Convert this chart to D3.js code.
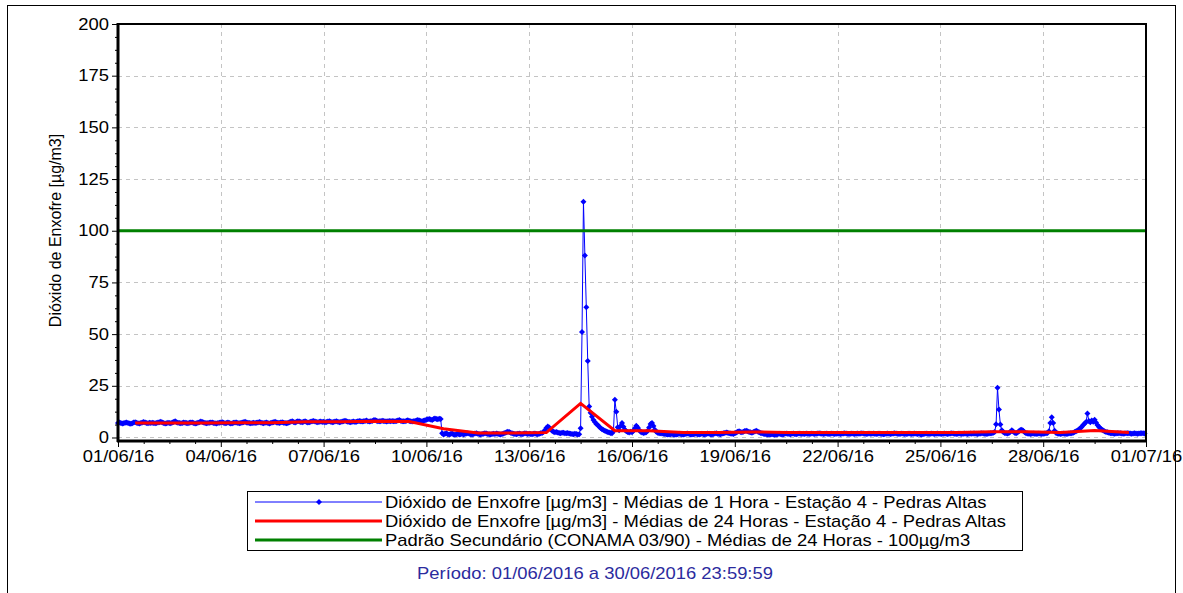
<!DOCTYPE html>
<html lang="pt">
<head>
<meta charset="utf-8">
<title>Dióxido de Enxofre - Estação 4</title>
<script src="https://cdn.jsdelivr.net/npm/d3@7"></script>
<style>
  body { margin: 0; background: #fff; }
  svg { display: block; font-family: "Liberation Sans", Arial, sans-serif; }
</style>
</head>
<body>
<svg id="chart" width="1183" height="593"></svg>
<script>
// y axis ticks
var yTicks = [0, 25, 50, 75, 100, 125, 150, 175, 200];
// x axis tick labels (dd/mm/yy)
var xTickLabels = ["01/06/16", "04/06/16", "07/06/16", "10/06/16", "13/06/16", "16/06/16",
                   "19/06/16", "22/06/16", "25/06/16", "28/06/16", "01/07/16"];

// hourly means, one row per day of June 2016 (hours 0..23)
var hourly = [
  [7.0,7.2,7.0,6.8,6.9,7.1,7.3,7.0,6.8,6.7,6.9,7.2,7.4,7.1,6.9,6.8,7.0,7.3,7.5,7.2,7.0,6.9,7.1,7.0],
  [7.1,7.0,6.9,7.0,7.2,7.4,7.6,7.3,7.0,6.8,6.9,7.1,7.0,6.9,7.2,7.5,7.8,7.4,7.1,7.0,6.9,7.0,7.2,7.1],
  [7.0,6.9,7.1,7.3,7.2,7.0,6.8,6.9,7.1,7.4,7.7,7.5,7.2,7.0,6.9,7.0,7.1,7.3,7.2,7.0,6.9,6.8,7.0,7.1],
  [7.2,7.4,7.1,6.9,7.0,7.2,7.0,6.8,6.9,7.1,7.3,7.2,7.0,6.9,7.0,7.2,7.4,7.6,7.3,7.1,7.0,6.9,7.0,7.1],
  [7.0,7.1,7.3,7.5,7.2,7.0,6.9,7.1,7.3,7.0,6.8,7.0,7.2,7.4,7.6,7.3,7.1,7.0,7.2,7.4,7.1,7.0,6.9,7.0],
  [7.4,7.6,7.8,7.5,7.3,7.6,7.9,7.7,7.5,7.4,7.6,7.8,7.5,7.3,7.4,7.6,7.8,8.0,7.7,7.5,7.4,7.6,7.7,7.5],
  [7.6,7.4,7.5,7.7,7.9,7.6,7.4,7.5,7.7,7.8,7.6,7.4,7.5,7.7,7.9,8.1,7.8,7.6,7.5,7.4,7.6,7.7,7.5,7.6],
  [7.8,8.0,7.9,7.7,7.8,8.0,8.2,7.9,7.7,7.8,8.0,8.3,8.5,8.1,7.9,7.8,7.9,8.1,8.0,7.8,7.7,7.9,8.0,7.9],
  [8.0,7.9,7.8,8.0,8.2,8.4,8.1,7.9,7.8,7.9,8.1,8.3,8.0,7.8,7.7,7.9,8.0,8.2,8.4,8.2,8.0,7.9,8.1,8.3],
  [8.6,8.8,9.0,8.7,8.5,8.9,9.2,9.0,8.8,9.1,8.9,2.0,1.5,1.8,2.0,1.6,1.4,1.7,1.9,1.5,1.3,1.6,1.8,1.5],
  [1.6,1.8,1.5,1.7,1.9,2.0,1.8,1.6,1.5,1.7,1.9,2.1,1.8,1.6,1.5,1.7,1.8,2.0,1.9,1.7,1.6,1.5,1.7,1.8],
  [1.7,1.9,1.8,1.6,1.5,1.7,1.9,2.2,2.5,2.8,2.6,2.3,2.0,1.8,1.7,1.6,1.8,1.9,1.7,1.6,1.8,2.0,1.9,1.7],
  [1.8,1.7,1.6,1.8,1.9,1.7,1.6,1.8,2.0,2.2,2.6,3.5,4.6,5.3,4.8,4.0,3.2,2.8,2.5,2.6,2.4,2.2,2.1,2.3],
  [2.3,2.1,2.0,2.2,1.9,1.8,1.7,1.6,1.8,1.7,1.5,1.6,4.5,51.0,114.0,88.0,63.0,37.0,15.0,12.0,10.0,8.5,7.5,6.5],
  [6.0,5.2,4.6,4.0,3.6,3.2,2.9,2.6,2.4,2.2,2.1,3.0,18.2,12.5,5.0,3.5,5.5,7.0,5.2,3.8,3.0,2.6,2.4,2.8],
  [2.5,3.2,4.5,5.7,4.8,3.6,2.8,2.4,2.2,2.3,2.5,3.2,4.8,6.5,7.0,5.5,3.8,2.8,2.3,2.1,2.0,1.9,1.8,1.7],
  [1.6,1.5,1.4,1.6,1.7,1.5,1.3,1.4,1.6,1.8,1.7,1.5,1.4,1.6,1.8,1.9,1.7,1.5,1.4,1.6,1.7,1.8,1.6,1.5],
  [1.7,1.8,1.6,1.5,1.7,1.9,1.8,1.6,1.5,1.7,1.9,2.0,1.8,1.7,1.6,1.8,2.0,2.2,2.4,2.3,2.1,1.9,1.8,1.7],
  [2.0,2.4,2.8,3.0,2.7,2.5,2.8,3.1,3.3,3.0,2.7,2.5,2.3,2.6,2.9,3.2,2.9,2.5,2.2,2.0,1.8,1.7,1.6,1.5],
  [1.4,1.5,1.6,1.5,1.3,1.4,1.6,1.8,1.7,1.5,1.6,1.8,1.9,1.8,1.7,1.6,1.8,1.9,1.7,1.6,1.8,1.9,1.8,1.7],
  [1.8,1.7,1.9,1.8,1.7,1.8,1.9,1.8,1.7,1.8,1.9,2.0,1.9,1.8,1.7,1.8,1.9,1.8,1.7,1.8,1.9,1.8,1.7,1.8],
  [1.9,1.8,1.7,1.8,1.9,2.0,1.9,1.8,1.7,1.8,1.9,1.8,1.7,1.8,1.9,1.8,1.9,2.0,1.9,1.8,1.7,1.8,1.9,1.8],
  [1.8,1.9,1.8,1.7,1.8,1.9,1.8,1.7,1.6,1.7,1.8,1.9,1.8,1.7,1.8,1.9,2.0,1.9,1.8,1.7,1.8,1.9,1.8,1.7],
  [1.7,1.8,1.9,1.8,1.7,1.8,1.9,1.8,1.7,1.8,1.6,1.5,1.7,1.8,1.9,1.8,1.7,1.8,1.9,1.8,1.7,1.8,1.9,1.8],
  [1.8,1.7,1.8,1.9,1.8,1.7,1.8,1.9,2.0,1.9,1.8,1.7,1.8,1.9,1.8,1.7,1.8,1.9,1.8,1.7,1.8,1.9,1.8,1.9],
  [1.9,1.8,1.7,1.8,1.9,2.0,1.9,1.8,1.7,1.8,1.9,2.0,2.1,2.3,2.6,6.4,24.0,13.5,6.3,3.5,2.6,2.2,2.0,1.9],
  [2.2,2.8,3.5,2.9,2.3,2.0,2.4,3.0,3.6,3.8,3.2,2.5,2.1,1.9,1.8,1.7,1.8,1.9,1.8,1.7,1.8,1.9,1.8,1.7],
  [1.8,1.9,2.0,2.2,3.0,7.0,9.8,7.0,3.2,2.2,1.9,1.8,1.7,1.8,1.9,1.8,1.7,1.8,1.9,2.0,2.1,2.3,2.6,3.0],
  [3.4,3.9,4.5,5.2,6.0,6.8,7.5,11.6,8.0,7.4,8.2,7.6,8.6,7.2,6.0,5.2,4.5,3.9,3.4,3.0,2.7,2.5,2.3,2.1],
  [2.0,1.9,1.8,1.9,2.0,2.1,2.0,1.9,1.8,1.9,2.0,2.1,2.0,1.9,1.8,1.9,2.0,1.9,1.8,1.9,2.0,2.1,2.0,1.9]
];

// 24 hour means, one per day (plotted at noon)
var daily = [7.0, 7.0, 7.0, 7.1, 7.1, 7.6, 7.6, 7.9, 7.7, 4.2,
             2.2, 2.2, 2.4, 16.5, 3.3, 3.2, 2.4, 2.4, 2.7, 2.4,
             2.4, 2.4, 2.4, 2.4, 2.4, 2.8, 2.8, 2.4, 3.4, 2.4];

var limit = 100;

var legendLabels = [
  "Dióxido de Enxofre [µg/m3] - Médias de 1 Hora - Estação 4 - Pedras Altas",
  "Dióxido de Enxofre [µg/m3] - Médias de 24 Horas - Estação 4 - Pedras Altas",
  "Padrão Secundário (CONAMA 03/90) - Médias de 24 Horas - 100µg/m3"
];
var periodText = "Período: 01/06/2016 a 30/06/2016 23:59:59";
var yTitle = "Dióxido de Enxofre [µg/m3]";

var stretch = 1.15;   // the original text is drawn wide

var svg = d3.select("#chart");
var margin = {top: 24, left: 118, right: 37, bottom: 152};
var plotW = 1183 - margin.left - margin.right,
    plotH = 593 - margin.top - margin.bottom;

var parse = d3.timeParse("%d/%m/%y");
var xTicks = xTickLabels.map(parse);

var x = d3.scaleTime()
  .domain([xTicks[0], xTicks[xTicks.length - 1]])
  .range([margin.left, margin.left + plotW]);

var y = d3.scaleLinear()
  .domain([-1.7, 200])
  .range([margin.top + plotH, margin.top]);

var blue = [];
hourly.forEach(function(row, d) {
  row.forEach(function(v, h) {
    blue.push({date: new Date(2016, 5, 1 + d, h), value: v});
  });
});
var red = daily.map(function(v, d) {
  return {date: new Date(2016, 5, 1 + d, 12), value: v};
});

function widen(sel) {
  sel.each(function() {
    var t = d3.select(this);
    var tx = +t.attr("x") || 0;
    t.attr("x", 0).attr("transform", `translate(${tx},0) scale(${stretch},1)`);
  });
}

// outer frame
svg.append("rect")
  .attr("x", 7.5).attr("y", 5.5)
  .attr("width", 1168).attr("height", 620)
  .attr("fill", "none").attr("stroke", "#000").attr("stroke-width", 1);

// minor ticks: 4 parts per major interval
var xMinor = [];
for (var i = 0; i < xTicks.length - 1; i++) {
  for (var k = 1; k < 4; k++) xMinor.push(d3.timeHour.offset(xTicks[i], 18 * k));
}
var yMinor = [];
for (var j = 0; j < yTicks.length - 1; j++) {
  for (var m = 1; m < 4; m++) yMinor.push(yTicks[j] + 6.25 * m);
}

// grid
var grid = svg.append("g").attr("stroke", "#c4c4c4").attr("stroke-dasharray", "4,4");
grid.selectAll("line.gx")
  .data(xTicks.slice(1, -1))
  .enter().append("line")
    .attr("x1", d => Math.round(x(d)) + 0.5).attr("x2", d => Math.round(x(d)) + 0.5)
    .attr("y1", margin.top).attr("y2", margin.top + plotH);
grid.selectAll("line.gy")
  .data(yTicks.slice(0, -1))
  .enter().append("line")
    .attr("y1", d => Math.round(y(d)) + 0.5).attr("y2", d => Math.round(y(d)) + 0.5)
    .attr("x1", margin.left).attr("x2", margin.left + plotW);

// axes
svg.append("g")
  .attr("transform", `translate(${margin.left},0)`)
  .call(d3.axisLeft(y).tickValues(yTicks).tickSize(6).tickPadding(3));
svg.append("g")
  .attr("transform", `translate(${margin.left},0)`)
  .call(d3.axisLeft(y).tickValues(yMinor).tickSize(3).tickFormat(""));

svg.append("g")
  .attr("transform", `translate(0,${margin.top + plotH})`)
  .call(d3.axisBottom(x).tickValues(xTicks).tickSize(6).tickPadding(4)
        .tickFormat(d3.timeFormat("%d/%m/%y")));
svg.append("g")
  .attr("transform", `translate(0,${margin.top + plotH})`)
  .call(d3.axisBottom(x).tickValues(xMinor).tickSize(3).tickFormat(""));

svg.selectAll(".domain").remove();
svg.selectAll(".tick line").attr("stroke", "#000");
svg.selectAll(".tick text")
  .attr("fill", "#000")
  .style("font-family", "'Liberation Sans', Arial, sans-serif")
  .style("font-size", "16px")
  .call(widen);

// y title
svg.append("text")
  .attr("transform", "translate(61," + (margin.top + plotH / 2 - 2) + ") rotate(-90)")
  .attr("text-anchor", "middle")
  .style("font-size", "16px")
  .text(yTitle);

// series
var line = d3.line()
  .x(d => x(d.date))
  .y(d => y(d.value));

svg.append("path")
  .datum(blue)
  .attr("fill", "none")
  .attr("stroke", "#0000ff")
  .attr("stroke-width", 1)
  .attr("d", line);

var diamond = "M0,-3L3,0L0,3L-3,0Z";
svg.append("g").attr("fill", "#0000ff")
  .selectAll("path")
  .data(blue)
  .enter().append("path")
    .attr("d", diamond)
    .attr("transform", d => `translate(${x(d.date)},${y(d.value)})`);

svg.append("path")
  .datum(red)
  .attr("fill", "none")
  .attr("stroke", "#ff0000")
  .attr("stroke-width", 3)
  .attr("d", line);

svg.append("line")
  .attr("x1", margin.left).attr("x2", margin.left + plotW)
  .attr("y1", y(limit)).attr("y2", y(limit))
  .attr("stroke", "#008000").attr("stroke-width", 3);

// plot frame
svg.append("rect")
  .attr("x", margin.left).attr("y", margin.top)
  .attr("width", plotW).attr("height", plotH)
  .attr("fill", "none").attr("stroke", "#000").attr("stroke-width", 2);
svg.append("line")
  .attr("x1", margin.left).attr("x2", margin.left)
  .attr("y1", margin.top - 1).attr("y2", margin.top + plotH + 1)
  .attr("stroke", "#000").attr("stroke-width", 3);
svg.append("line")
  .attr("x1", margin.left - 1).attr("x2", margin.left + plotW + 1)
  .attr("y1", margin.top + plotH).attr("y2", margin.top + plotH)
  .attr("stroke", "#000").attr("stroke-width", 3);

// legend
var lg = svg.append("g");
lg.append("rect")
  .attr("x", 247.5).attr("y", 491.5)
  .attr("width", 775).attr("height", 59)
  .attr("fill", "#fff").attr("stroke", "#000").attr("stroke-width", 1);

var legendColors = ["#0000ff", "#ff0000", "#008000"];
var legendWidths = [1, 3, 3];
var rows = lg.selectAll("g.row")
  .data(legendLabels)
  .enter().append("g")
    .attr("transform", (d, i) => `translate(0,${502 + i * 19})`);
rows.append("line")
  .attr("x1", 255).attr("x2", 382)
  .attr("stroke", (d, i) => legendColors[i])
  .attr("stroke-width", (d, i) => legendWidths[i]);
rows.append("text")
  .attr("x", 385).attr("y", 6)
  .style("font-size", "16px")
  .text(d => d)
  .call(widen);
lg.append("path")
  .attr("d", diamond)
  .attr("fill", "#0000ff")
  .attr("transform", "translate(319,502)");

svg.append("text")
  .attr("x", 595).attr("y", 579)
  .attr("text-anchor", "middle")
  .attr("fill", "#2b2b9e")
  .style("font-size", "16px")
  .text(periodText)
  .call(widen);
</script>
</body>
</html>
